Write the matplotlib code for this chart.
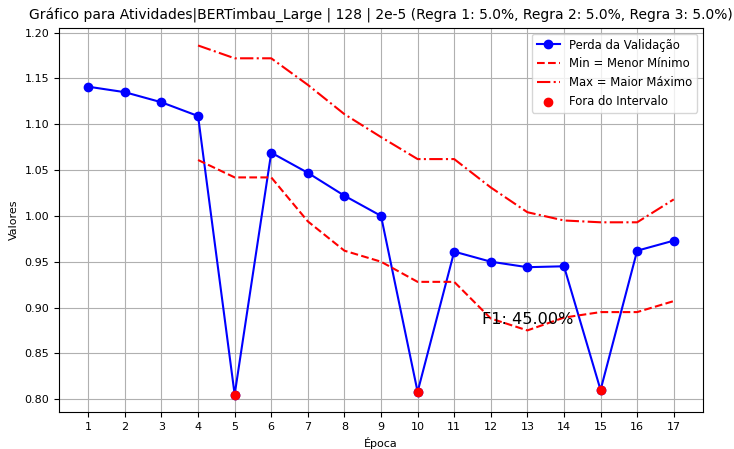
import matplotlib
matplotlib.use("Agg")
import matplotlib.pyplot as plt

epocas = list(range(1, 18))
perda = [1.141, 1.135, 1.124, 1.109, 0.805, 1.069, 1.047, 1.022, 1.000,
         0.808, 0.961, 0.950, 0.944, 0.945, 0.810, 0.962, 0.973]
epocas_lim = list(range(4, 18))
minimo = [1.061, 1.042, 1.042, 0.994, 0.962, 0.950, 0.928, 0.928, 0.888,
          0.875, 0.889, 0.895, 0.895, 0.907]
maximo = [1.186, 1.172, 1.172, 1.143, 1.111, 1.086, 1.062, 1.062, 1.031,
          1.004, 0.995, 0.993, 0.993, 1.018]
fora_x = [5, 10, 15]
fora_y = [0.805, 0.808, 0.810]

fig, ax = plt.subplots(figsize=(7.34, 4.49), dpi=100)
ax.plot(epocas, perda, 'b-o', label='Perda da Validação', markersize=6)
ax.plot(epocas_lim, minimo, 'r--', label='Min = Menor Mínimo')
ax.plot(epocas_lim, maximo, 'r-.', label='Max = Maior Máximo')
ax.scatter(fora_x, fora_y, color='red', zorder=5, label='Fora do Intervalo')
ax.text(13.0, 0.887, 'F1: 45.00%', fontsize=11.6, ha='center', va='center')
ax.set_xticks(epocas)
ax.set_xlabel('Época', fontsize=8)
ax.set_ylabel('Valores', fontsize=8)
ax.set_title('Gráfico para Atividades|BERTimbau_Large | 128 | 2e-5 (Regra 1: 5.0%, Regra 2: 5.0%, Regra 3: 5.0%)', fontsize=10)
ax.tick_params(labelsize=8)
ax.grid(True)
ax.legend(loc='upper right', fontsize=8.4)
fig.subplots_adjust(left=0.0804, right=0.9578, top=0.9376, bottom=0.0824)
fig.savefig('out.png', dpi=100)
